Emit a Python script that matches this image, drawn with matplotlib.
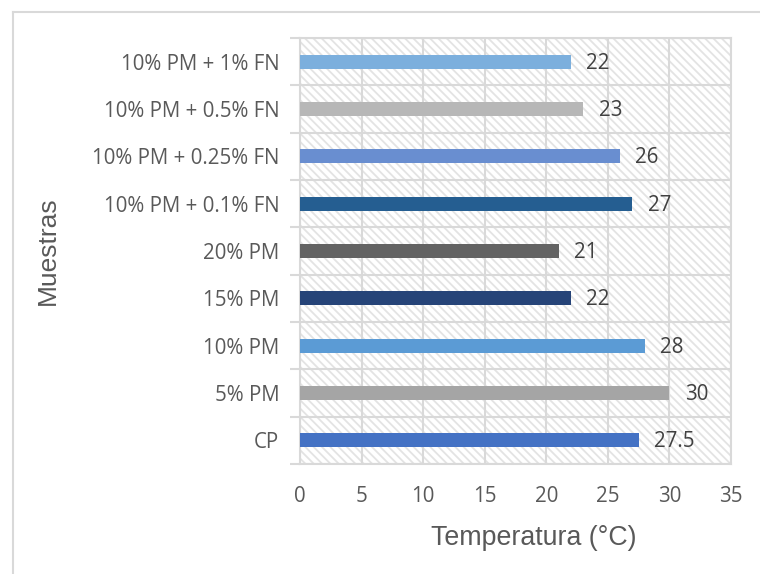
import matplotlib
matplotlib.use("Agg")
import matplotlib.pyplot as plt
from matplotlib.patches import Rectangle
from matplotlib.lines import Line2D
import numpy as np

categories = ["CP", "5% PM", "10% PM", "15% PM", "20% PM",
              "10% PM + 0.1% FN", "10% PM + 0.25% FN", "10% PM + 0.5% FN", "10% PM + 1% FN"]
values = [27.5, 30, 28, 22, 21, 27, 26, 23, 22]
value_labels = ["27.5", "30", "28", "22", "21", "27", "26", "23", "22"]
colors = ["#4472C4", "#A5A5A5", "#5B9BD5", "#264478", "#636363",
          "#255E91", "#698ED0", "#B7B7B7", "#7CAFDD"]
xticks = [0, 5, 10, 15, 20, 25, 30, 35]

plt.rcParams['hatch.linewidth'] = 1.3
grid_c = "#D9D9D9"
text_c = "#595959"
tick_font = "Open Sans"
title_font = "Liberation Sans"
fs = 14.8

fig = plt.figure(figsize=(7.6, 5.74), dpi=100)
W, H = 760, 574
x0, x1, y0, y1 = 300, 731, 38, 464
ax = fig.add_axes([x0 / W, 1 - y1 / H, (x1 - x0) / W, (y1 - y0) / H])

# hatched background
bg = Rectangle((0, 0), 1, 1, transform=ax.transAxes, facecolor="white",
               edgecolor="#E3E3E3", hatch="\\" * 4, linewidth=0, zorder=0)
ax.add_patch(bg)

y = np.arange(len(categories))
ax.barh(y, values, height=0.3, color=colors, zorder=3)
ax.set_xlim(0, 35)
ax.set_ylim(-0.5, len(categories) - 0.5)

for yi, v, lab in zip(y, values, value_labels):
    ax.annotate(lab, (v, yi), xytext=(11, -1), textcoords="offset points",
                va="center", ha="left", fontsize=fs, color="#404040",
                family=tick_font, zorder=4)

ax.set_xticks(xticks)
ax.set_xticklabels([str(t) for t in xticks], family=tick_font, fontsize=fs, color=text_c)
ax.set_yticks(y)
ax.set_yticklabels(categories, family=tick_font, fontsize=fs, color=text_c)
ax.set_yticks(np.arange(-0.5, len(categories), 1.0), minor=True)
ax.tick_params(axis="x", which="both", length=0, pad=16)
ax.tick_params(axis="y", which="major", length=0, pad=15)
ax.tick_params(axis="y", which="minor", length=7.5, width=1.5, color=grid_c)
ax.grid(axis="x", which="major", color=grid_c, linewidth=1.5, zorder=1)
ax.grid(axis="y", which="minor", color=grid_c, linewidth=1.5, zorder=1)
ax.set_axisbelow(True)
for s in ax.spines.values():
    s.set_color(grid_c)
    s.set_linewidth(1.5)

fig.text(48 / W, 1 - 251 / H, "Muestras", rotation=90, ha="center", va="center",
         fontsize=19, color=text_c, family=title_font)
fig.text(534 / W, 1 - 538 / H, "Temperatura (°C)", ha="center", va="center",
         fontsize=19.3, color=text_c, family=title_font)

# outer chart frame
fig.add_artist(Line2D([13 / W, 13 / W], [0, 1 - 12 / H], transform=fig.transFigure,
                      color=grid_c, linewidth=1.5))
fig.add_artist(Line2D([13 / W, 1], [1 - 12 / H, 1 - 12 / H], transform=fig.transFigure,
                      color=grid_c, linewidth=1.5))

fig.savefig("out.png", dpi=100)
